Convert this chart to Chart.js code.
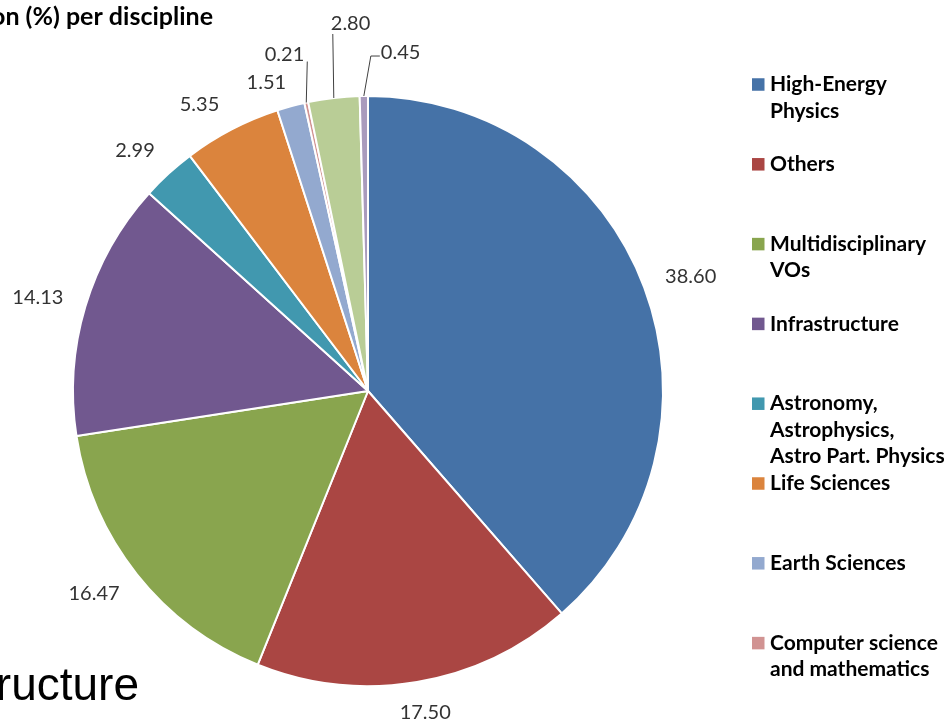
<!DOCTYPE html>
<html><head><meta charset="utf-8">
<script src="https://cdn.jsdelivr.net/npm/chart.js@4.4.0/dist/chart.umd.min.js"></script>
<style>html,body{margin:0;padding:0;background:#fff;}canvas{display:block;}</style>
</head><body>
<canvas id="c" width="944" height="719"></canvas>
<script>
// ---- data ----
const categories = [
  ['High-Energy', 'Physics'],
  'Others',
  ['Multidisciplinary', 'VOs'],
  'Infrastructure',
  ['Astronomy,', 'Astrophysics,', 'Astro Part. Physics'],
  'Life Sciences',
  'Earth Sciences',
  ['Computer science', 'and mathematics'],
  'Computational Chemistry',
  'Fusion'
];
const shares = [38.60, 17.50, 16.47, 14.13, 2.99, 5.35, 1.51, 0.21, 2.80, 0.45];
const valueLabels = ['38.60', '17.50', '16.47', '14.13', '2.99', '5.35', '1.51', '0.21', '2.80', '0.45'];
const colors = ['#4572A7', '#AA4643', '#89A54E', '#71588F', '#4198AF', '#DB843D', '#93A9CF', '#D19392', '#B9CD96', '#A99BBD'];
const titleText = 'Normalised CPU time consumption (%) per discipline';
const slideText = 'Infrastructure';

// ---- plugins ----
const valueLabelPlugin = {
  id: 'valueLabels',
  afterDatasetsDraw(chart, args, o) {
    const ctx = chart.ctx;
    const meta = chart.getDatasetMeta(0);
    ctx.save();
    ctx.font = o.font;
    ctx.fillStyle = o.color;
    ctx.strokeStyle = o.lineColor;
    ctx.lineWidth = 1;
    meta.data.forEach((arc, i) => {
      const p = arc.getProps(['x', 'y', 'startAngle', 'endAngle', 'outerRadius'], true);
      const mid = (p.startAngle + p.endAngle) / 2;
      const ux = Math.cos(mid), uy = Math.sin(mid);
      const text = valueLabels[i];
      const w = ctx.measureText(text).width;
      const lead = o.leaders[i];
      if (lead) {
        const ex = p.x + p.outerRadius * ux, ey = p.y + p.outerRadius * uy;
        const tx = ex + lead.lean, ty = ey - lead.rise;
        ctx.beginPath();
        ctx.moveTo(ex, ey);
        ctx.lineTo(tx, ty);
        let lx = tx;
        if (lead.tail) { lx = tx + lead.tail; ctx.lineTo(lx, ty); }
        ctx.stroke();
        ctx.textBaseline = 'middle';
        ctx.textAlign = lead.align;
        ctx.fillText(text, lx + lead.pad, ty - lead.above);
      } else {
        const r = p.outerRadius + o.gap;
        const nd = o.nudge[i] || [0, 0];
        const cx = p.x + r * ux + ux * w / 2 + nd[0];
        const cy = p.y + r * uy + uy * o.boxHeight / 2 + nd[1];
        ctx.textAlign = 'center';
        ctx.textBaseline = 'middle';
        ctx.fillText(text, cx, cy);
      }
    });
    ctx.restore();
  }
};

const sideLegendPlugin = {
  id: 'sideLegend',
  afterDraw(chart, args, o) {
    const ctx = chart.ctx;
    ctx.save();
    ctx.font = o.font;
    ctx.textBaseline = 'middle';
    ctx.textAlign = 'left';
    const n = Math.min(o.maxItems, categories.length);
    for (let i = 0; i < n; i++) {
      const y0 = o.top + i * o.step;
      ctx.fillStyle = colors[i];
      ctx.fillRect(o.x, y0 - o.box / 2, o.box, o.box);
      ctx.fillStyle = o.color;
      const lines = Array.isArray(categories[i]) ? categories[i] : [categories[i]];
      lines.forEach((t, j) => ctx.fillText(t, o.x + o.textGap, y0 + j * o.lineHeight));
    }
    ctx.restore();
  }
};

const slideTextPlugin = {
  id: 'slideText',
  afterDraw(chart, args, o) {
    const ctx = chart.ctx;
    ctx.save();
    ctx.fillStyle = '#000';
    ctx.textBaseline = 'alphabetic';
    ctx.textAlign = 'right';
    ctx.font = o.titleFont;
    ctx.fillText(titleText, o.titleRight, o.titleBaseline);
    ctx.font = o.slideFont;
    ctx.fillText(slideText, o.slideRight, o.slideBaseline);
    ctx.restore();
  }
};

new Chart(document.getElementById('c'), {
  type: 'pie',
  data: {
    labels: categories,
    datasets: [{
      data: shares,
      backgroundColor: colors,
      borderColor: '#ffffff',
      borderWidth: 2
    }]
  },
  options: {
    responsive: false,
    animation: false,
    devicePixelRatio: 1,
    layout: { padding: { left: 72, right: 280, top: 95, bottom: 32 } },
    plugins: {
      legend: { display: false },
      title: { display: false },
      tooltip: { enabled: false },
      valueLabels: {
        font: '20px Lato',
        color: '#333333',
        lineColor: '#404040',
        gap: 24,
        boxHeight: 15,
        nudge: { 2: [-4, 0], 4: [-4, 0], 5: [-12, 3], 6: [-13, 7] },
        leaders: {
          7: { lean: 1, rise: 41, align: 'right', pad: -3, above: 7 },
          8: { lean: -1, rise: 64, align: 'left', pad: -2, above: 10 },
          9: { lean: 7, rise: 40, tail: 9, align: 'left', pad: 1, above: 3 }
        }
      },
      sideLegend: {
        font: 'bold 21px Lato',
        color: '#000',
        x: 752, top: 84.5, step: 79.8, box: 12.5, textGap: 18, lineHeight: 26.5, maxItems: 8
      },
      slideText: {
        titleFont: 'bold 25px Lato', titleRight: 213, titleBaseline: 25,
        slideFont: '46px "Liberation Sans"', slideRight: 139, slideBaseline: 700
      }
    }
  },
  plugins: [valueLabelPlugin, sideLegendPlugin, slideTextPlugin]
});
</script>
</body></html>
